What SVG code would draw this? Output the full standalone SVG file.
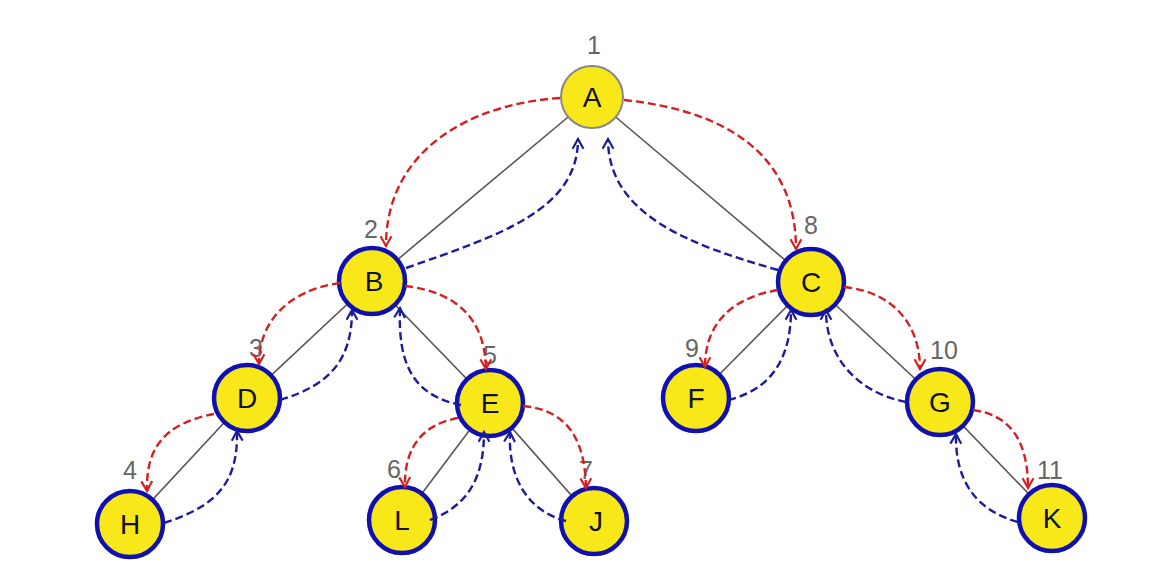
<svg xmlns="http://www.w3.org/2000/svg" width="1172" height="587" viewBox="0 0 1172 587">
<style>
.edge{stroke:#555;stroke-width:1.6;fill:none}
.red{stroke:#d42020;stroke-width:2.4;fill:none;stroke-dasharray:8 4;marker-end:url(#ar)}
.blue{stroke:#1c1c9a;stroke-width:2.4;fill:none;stroke-dasharray:8 4;marker-end:url(#ab)}
.node{fill:#f8e81a;stroke:#1010b0;stroke-width:4.5}
.root{fill:#f8e81a;stroke:#888;stroke-width:2}
.lbl{font-family:"Liberation Sans",Arial,sans-serif;font-size:28px;fill:#111;text-anchor:middle;dominant-baseline:central}
.num{font-family:"Liberation Sans",Arial,sans-serif;font-size:25px;fill:#666;text-anchor:middle}
</style>
<defs>
<marker id="ar" viewBox="0 0 12 12" refX="10" refY="6" markerWidth="13" markerHeight="13" markerUnits="userSpaceOnUse" orient="auto">
<path d="M1,1 L10,6 L1,11" fill="none" stroke="#d42020" stroke-width="2"/>
</marker>
<marker id="ab" viewBox="0 0 12 12" refX="10" refY="6" markerWidth="13" markerHeight="13" markerUnits="userSpaceOnUse" orient="auto">
<path d="M1,1 L10,6 L1,11" fill="none" stroke="#1c1c9a" stroke-width="2"/>
</marker>
</defs>
<rect width="1172" height="587" fill="#fff"/>
<g id="tree-edges">
<line class="edge" x1="592" y1="97" x2="372" y2="281"/>
<line class="edge" x1="592" y1="97" x2="811" y2="282"/>
<line class="edge" x1="372" y1="281" x2="247" y2="398"/>
<line class="edge" x1="372" y1="281" x2="490" y2="403"/>
<line class="edge" x1="811" y1="282" x2="696" y2="398"/>
<line class="edge" x1="811" y1="282" x2="940" y2="402"/>
<line class="edge" x1="247" y1="398" x2="130" y2="524"/>
<line class="edge" x1="490" y1="403" x2="402" y2="520"/>
<line class="edge" x1="490" y1="403" x2="594" y2="521"/>
<line class="edge" x1="940" y1="402" x2="1052" y2="518"/>
</g>
<g id="nodes">
<g id="node-A"><circle class="root" cx="592" cy="97" r="31"/><text class="lbl" x="592" y="97">A</text><text class="num" x="594" y="54">1</text></g>
<g id="node-B"><circle class="node" cx="372" cy="281" r="33"/><text class="lbl" x="374" y="281">B</text><text class="num" x="371" y="238">2</text></g>
<g id="node-C"><circle class="node" cx="811" cy="282" r="33"/><text class="lbl" x="811" y="282">C</text><text class="num" x="811" y="234">8</text></g>
<g id="node-D"><circle class="node" cx="247" cy="398" r="33"/><text class="lbl" x="247" y="398">D</text><text class="num" x="256" y="357">3</text></g>
<g id="node-E"><circle class="node" cx="490" cy="403" r="33"/><text class="lbl" x="490" y="403">E</text><text class="num" x="490" y="364">5</text></g>
<g id="node-F"><circle class="node" cx="696" cy="398" r="33"/><text class="lbl" x="696" y="398">F</text><text class="num" x="692" y="357">9</text></g>
<g id="node-G"><circle class="node" cx="940" cy="402" r="33"/><text class="lbl" x="940" y="402">G</text><text class="num" x="944" y="359">10</text></g>
<g id="node-H"><circle class="node" cx="130" cy="524" r="33"/><text class="lbl" x="130" y="524">H</text><text class="num" x="130" y="479">4</text></g>
<g id="node-L"><circle class="node" cx="402" cy="520" r="33"/><text class="lbl" x="402" y="520">L</text><text class="num" x="394" y="478">6</text></g>
<g id="node-J"><circle class="node" cx="594" cy="521" r="33"/><text class="lbl" x="596" y="521">J</text><text class="num" x="586" y="479">7</text></g>
<g id="node-K"><circle class="node" cx="1052" cy="518" r="33"/><text class="lbl" x="1052" y="518">K</text><text class="num" x="1050" y="479">11</text></g>
</g>
<g id="connectors">
<path class="red" d="M560,98 C470,104 386,150 386,246"/>
<path class="red" d="M624,100 C720,110 796,150 796,249"/>
<path class="red" d="M340,283 C290,290 259,320 259,364"/>
<path class="red" d="M405,286 C458,292 485,320 486,369"/>
<path class="red" d="M214,414 C162,424 146,450 147,491"/>
<path class="red" d="M458,418 C420,425 404,450 405,487"/>
<path class="red" d="M523,406 C568,410 585,440 586,488"/>
<path class="red" d="M778,290 C730,298 705,325 705,367"/>
<path class="red" d="M844,287 C894,292 920,325 920,369"/>
<path class="red" d="M973,410 C1010,415 1028,440 1028,488"/>
<path class="blue" d="M406,268 C500,235 578,210 578,139"/>
<path class="blue" d="M778,270 C690,245 608,215 608,139"/>
<path class="blue" d="M280,400 C330,385 352,360 352,310"/>
<path class="blue" d="M461,405 C410,395 398,360 400,308"/>
<path class="blue" d="M164,523 C220,505 238,480 237,431"/>
<path class="blue" d="M430,520 C470,505 484,475 484,432"/>
<path class="blue" d="M566,521 C525,510 508,475 510,432"/>
<path class="blue" d="M728,400 C770,390 791,360 791,310"/>
<path class="blue" d="M906,402 C860,393 826,360 826,310"/>
<path class="blue" d="M1018,522 C975,510 955,480 956,434"/>
</g>
</svg>
